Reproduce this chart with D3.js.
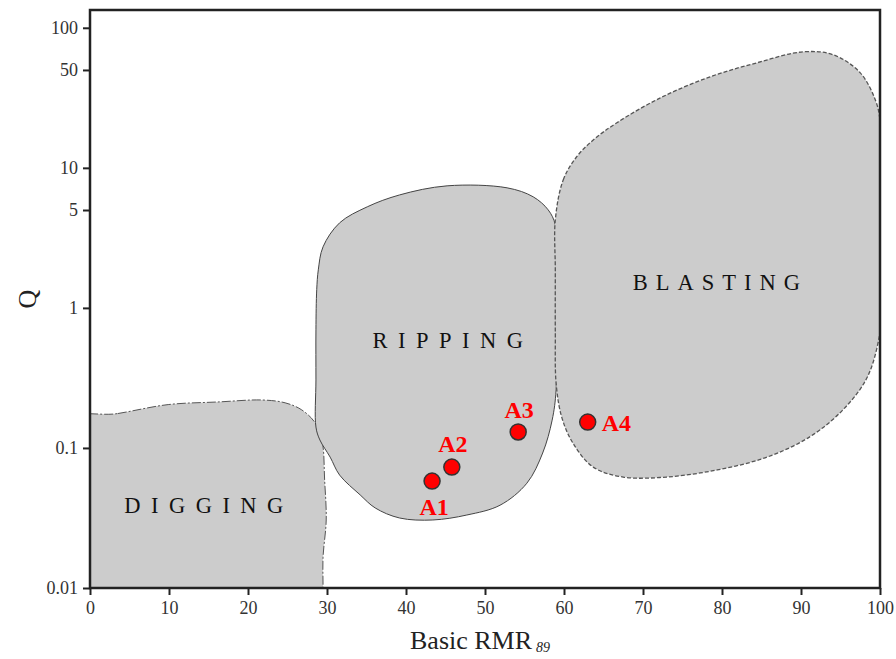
<!DOCTYPE html>
<html>
<head>
<meta charset="utf-8">
<script src="https://cdn.jsdelivr.net/npm/d3@7"></script>
<style>
  body { margin: 0; background: #fff; }
  svg { display: block; font-family: "Liberation Serif", "Times New Roman", serif; }
</style>
</head>
<body>
<svg id="chart" width="896" height="659"></svg>
<script>
// ---- data ----
const xTicks = [0, 10, 20, 30, 40, 50, 60, 70, 80, 90, 100];
const yTicks = [0.01, 0.1, 1, 5, 10, 50, 100];

const samples   = ['A1', 'A2', 'A3', 'A4'];
const sampleRMR = [43.3, 45.8, 54.2, 63.0];
const sampleQ   = [0.058, 0.073, 0.13, 0.153];

// zone outlines as [Basic RMR, Q]; a few points sit just outside the frame and get clipped
const diggingBoundary = [
  [-4, 0.152], [3.5, 0.176], [9.9, 0.204], [16.2, 0.213], [21.8, 0.22], [24.7, 0.21],
  [26.8, 0.187], [28.5, 0.151], [29.4, 0.11], [29.7, 0.059], [29.9, 0.0306],
  [29.5, 0.0166], [29.5, 0.0101], [29.5, 0.006], [-4, 0.006]
];
const rippingBoundary = [
  [28.9, 1.87], [29.5, 2.73], [31.6, 4.05], [35.1, 5.27], [39.2, 6.41], [45.2, 7.44],
  [52.8, 7.2], [56.1, 6.21], [58.0, 5.01], [58.9, 3.92], [59.0, 2.2], [59.0, 0.82],
  [59.0, 0.26], [58.5, 0.158], [57.3, 0.092], [55.3, 0.056], [51.9, 0.039],
  [47.7, 0.0332], [43.4, 0.0306], [39.2, 0.0316], [36.1, 0.0373], [34.2, 0.0462],
  [31.6, 0.064], [30.4, 0.086], [29.1, 0.114], [28.6, 0.141], [28.6, 0.306],
  [28.6, 0.697], [28.7, 1.35]
];
const blastingBoundary = [
  [58.9, 4.25], [59.9, 8.2], [61.6, 12.0], [63.7, 15.8], [66.7, 21.0], [72.2, 31.6],
  [78.5, 44.7], [84.4, 56.2], [90.3, 67.4], [94.1, 64.1], [97.5, 47.7], [99.4, 30.6],
  [100, 22.0], [100.3, 5.9], [100.4, 1.2], [100, 0.663], [98.4, 0.321], [95.3, 0.187],
  [91.1, 0.12], [85.7, 0.086], [79.4, 0.0697], [73.0, 0.062], [67.5, 0.062],
  [63.7, 0.073], [61.1, 0.109], [59.7, 0.167], [59.0, 0.291], [58.9, 0.663], [58.9, 1.87]
];

const zoneNames   = ['DIGGING', 'RIPPING', 'BLASTING'];
const zoneLabelAt = [[14.4, 0.039], [45.3, 0.59], [79.3, 1.53]];

// ---- setup ----
const svg = d3.select('#chart');
const frame = {left: 90, right: 880, top: 10, bottom: 588};

const x = d3.scaleLinear().domain([0, 100]).range([frame.left, frame.right]);
const y = d3.scaleLog().domain([0.01, 134]).range([frame.bottom, frame.top]);

svg.append('defs').append('clipPath').attr('id', 'plot-clip')
  .append('rect').attr('x', frame.left).attr('y', frame.top)
  .attr('width', frame.right - frame.left).attr('height', frame.bottom - frame.top);

const outline = d3.line()
  .x(d => x(d[0]))
  .y(d => y(d[1]))
  .curve(d3.curveCatmullRomClosed.alpha(0.5));

const zones = svg.append('g').attr('clip-path', 'url(#plot-clip)');

const zoneStyles = [
  {dash: '9,2,2,2', stroke: '#555', width: 1, spacing: 10.5},
  {dash: null, stroke: '#444', width: 1, spacing: 10.5},
  {dash: '4,2', stroke: '#555', width: 1.3, spacing: 8}
];
[diggingBoundary, rippingBoundary, blastingBoundary].forEach((pts, i) => {
  zones.append('path')
    .attr('d', outline(pts))
    .attr('fill', '#cccccc')
    .attr('stroke', zoneStyles[i].stroke)
    .attr('stroke-width', zoneStyles[i].width)
    .attr('stroke-dasharray', zoneStyles[i].dash);
});

// zone labels (dx makes up for the trailing letter-spacing)
svg.append('g').selectAll('text').data(zoneNames).enter()
  .append('text')
  .attr('x', (d, i) => x(zoneLabelAt[i][0]) + zoneStyles[i].spacing / 2)
  .attr('y', (d, i) => y(zoneLabelAt[i][1]))
  .attr('text-anchor', 'middle')
  .attr('dy', '0.35em')
  .attr('font-size', 22.5)
  .attr('letter-spacing', (d, i) => zoneStyles[i].spacing)
  .attr('fill', '#111')
  .text(d => d);

// ---- axes ----
const xAxis = d3.axisBottom(x).tickValues(xTicks).tickSize(7).tickPadding(6);
const yAxis = d3.axisLeft(y).tickValues(yTicks).tickFormat(d => String(d)).tickSize(7).tickPadding(5);

const gx = svg.append('g').attr('transform', `translate(0,${frame.bottom})`).call(xAxis);
const gy = svg.append('g').attr('transform', `translate(${frame.left},0)`).call(yAxis);
[gx, gy].forEach(g => {
  g.select('.domain').remove();
  g.selectAll('line').attr('stroke', '#222').attr('stroke-width', 2);
  g.selectAll('text').attr('font-size', 18).attr('fill', '#333')
    .attr('font-family', '"Liberation Serif", "Times New Roman", serif');
});

svg.append('rect')
  .attr('x', frame.left).attr('y', frame.top)
  .attr('width', frame.right - frame.left).attr('height', frame.bottom - frame.top)
  .attr('fill', 'none').attr('stroke', '#222').attr('stroke-width', 2.5);

// axis titles
svg.append('text')
  .attr('transform', `translate(36,${(frame.top + frame.bottom) / 2}) rotate(-90)`)
  .attr('text-anchor', 'middle')
  .attr('font-size', 26)
  .attr('fill', '#222')
  .text('Q');

const xt = svg.append('text')
  .attr('x', 410).attr('y', 649)
  .attr('font-size', 26)
  .attr('fill', '#222');
xt.append('tspan').text('Basic RMR');
xt.append('tspan').attr('dx', 4).attr('dy', 3).attr('font-size', 14).attr('font-style', 'italic').text('89');

// ---- samples ----
const labelPlace = {
  A1: {dx: 2, dy: 34, anchor: 'middle'},
  A2: {dx: 1, dy: -15, anchor: 'middle'},
  A3: {dx: 1, dy: -14, anchor: 'middle'},
  A4: {dx: 14, dy: 9, anchor: 'start'}
};

const pts = svg.append('g');
pts.selectAll('circle').data(samples).enter()
  .append('circle')
  .attr('cx', (d, i) => x(sampleRMR[i]))
  .attr('cy', (d, i) => y(sampleQ[i]))
  .attr('r', 8)
  .attr('fill', '#ff0000')
  .attr('stroke', '#333')
  .attr('stroke-width', 1.5);

pts.selectAll('text').data(samples).enter()
  .append('text')
  .attr('x', (d, i) => x(sampleRMR[i]) + labelPlace[d].dx)
  .attr('y', (d, i) => y(sampleQ[i]) + labelPlace[d].dy)
  .attr('text-anchor', d => labelPlace[d].anchor)
  .attr('font-size', 24)
  .attr('font-weight', 'bold')
  .attr('fill', '#ff0000')
  .text(d => d);
</script>
</body>
</html>
